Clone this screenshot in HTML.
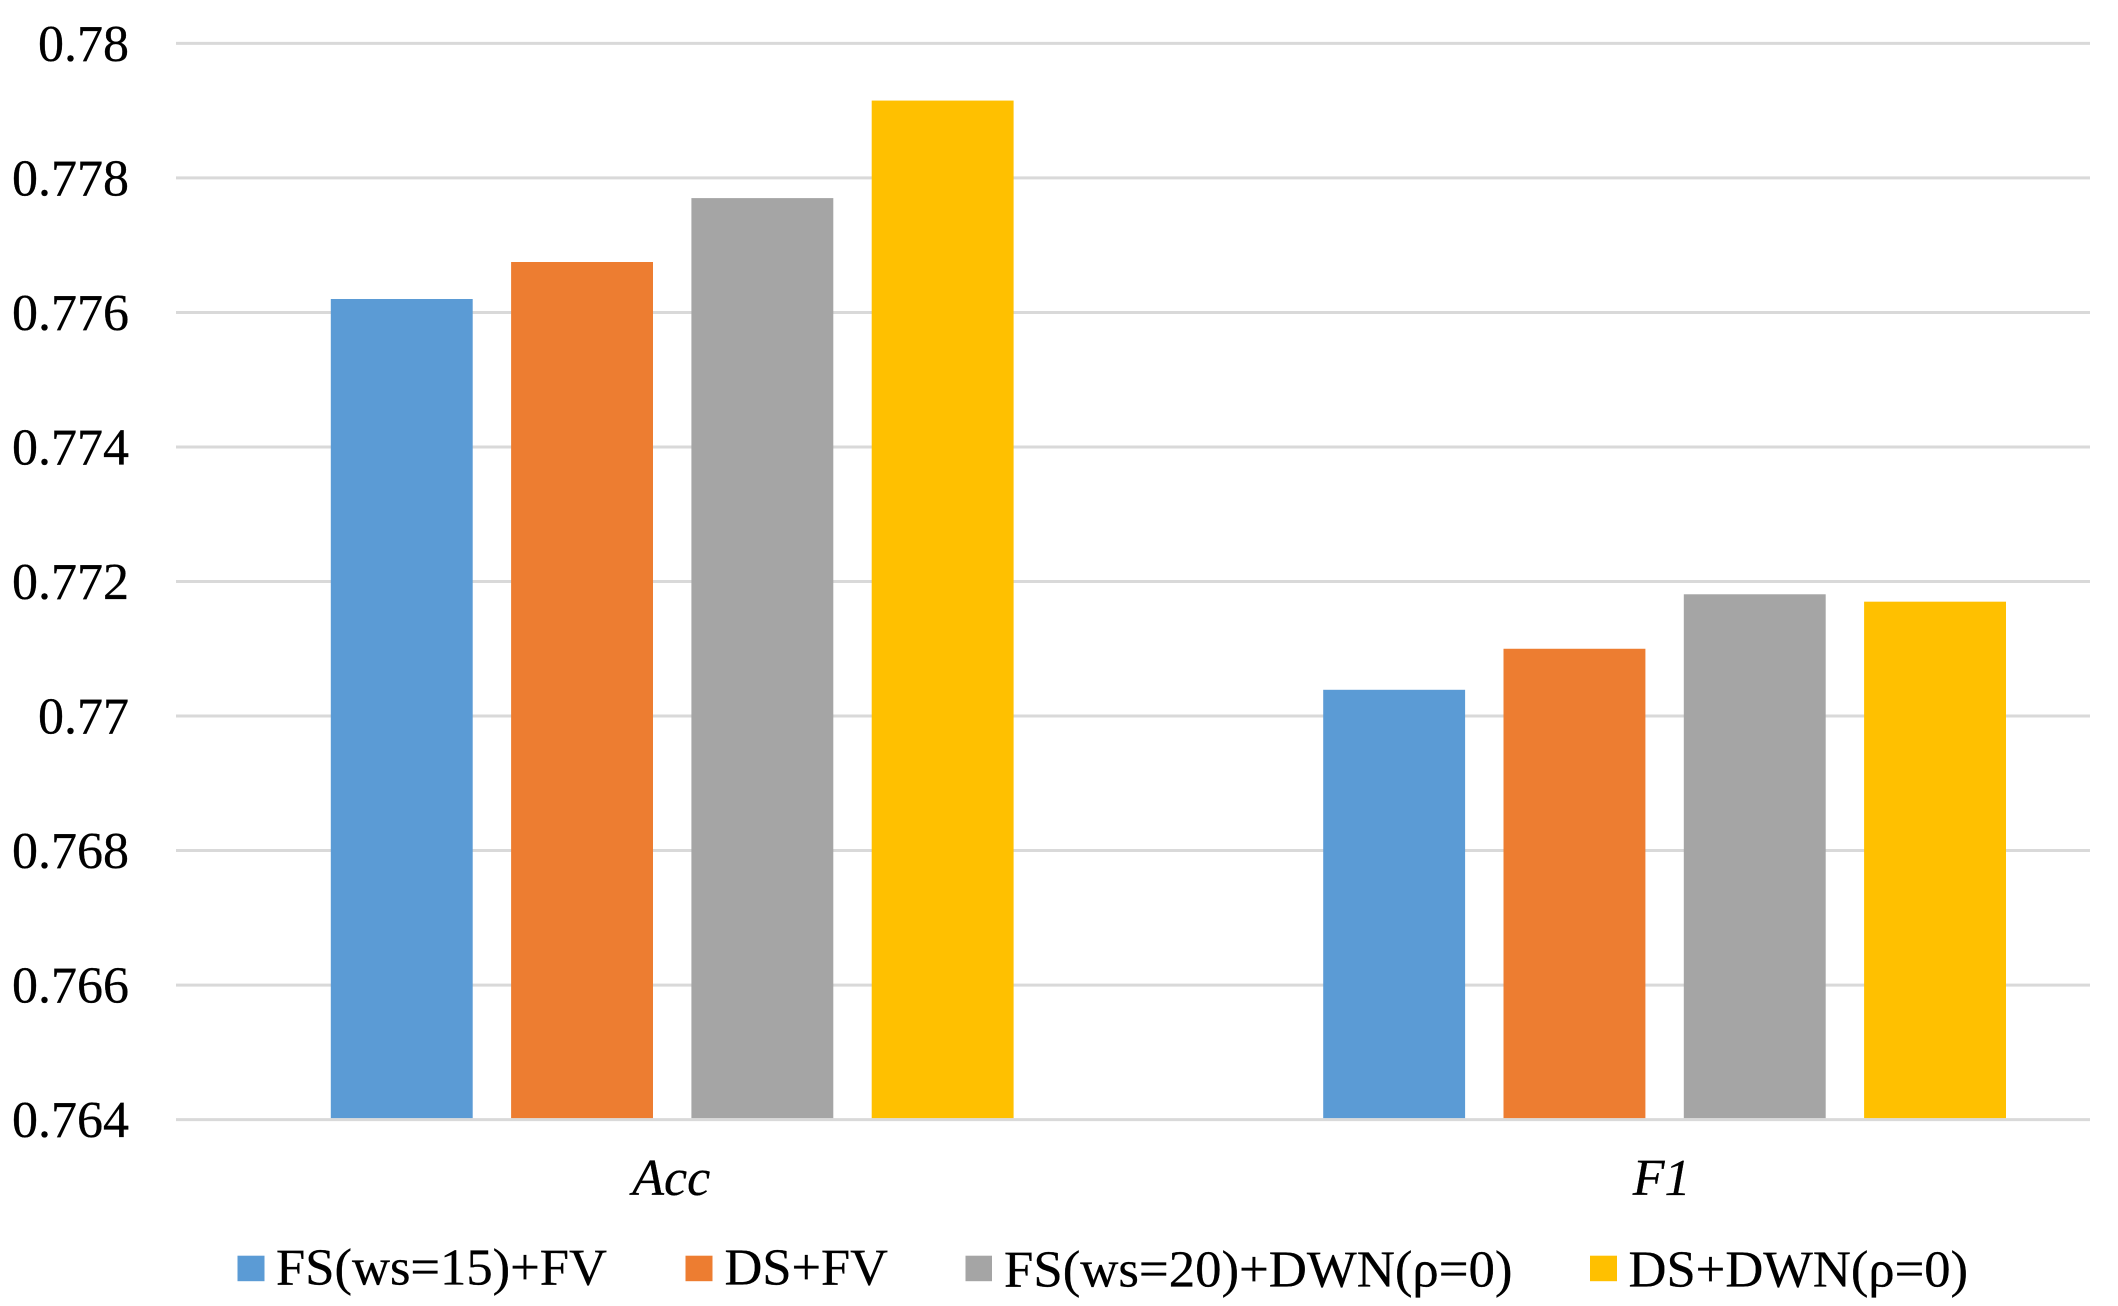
<!DOCTYPE html>
<html lang="en">
<head>
<meta charset="utf-8">
<title>Acc and F1 bar chart</title>
<style>
html,body{margin:0;padding:0;background:#fff;width:2118px;height:1306px;overflow:hidden}
svg{display:block;font-family:"Liberation Serif","Noto Serif CJK SC",serif;fill:#000}
text{stroke:#000;stroke-width:0.3px}
</style>
</head>
<body>
<svg id="chart" xmlns="http://www.w3.org/2000/svg" width="2118" height="1306" viewBox="0 0 2118 1306">
  <rect x="0" y="0" width="2118" height="1306" fill="#ffffff"/>
  <g id="grid"></g>
  <g id="ticks"></g>
  <g id="bars"></g>
  <g id="cats"></g>
  <g font-size="52">
    <g>
      <rect x="237.5" y="1255.7" width="27" height="25.5" fill="#5b9bd5"/>
      <text x="276" y="1284.3" textLength="331" lengthAdjust="spacingAndGlyphs">FS(ws=15)+FV</text>
    </g>
    <g>
      <rect x="685.5" y="1255.7" width="27" height="25.5" fill="#ed7d31"/>
      <text x="724.5" y="1284.3" textLength="163.5" lengthAdjust="spacingAndGlyphs">DS+FV</text>
    </g>
    <g>
      <rect x="965.5" y="1255.7" width="26.5" height="25.5" fill="#a5a5a5"/>
      <text x="1004" y="1286.7" textLength="508.5" lengthAdjust="spacingAndGlyphs">FS(ws=20)+DWN(ρ=0)</text>
    </g>
    <g>
      <rect x="1590" y="1255.7" width="27" height="25.5" fill="#ffc000"/>
      <text x="1628.5" y="1286.7" textLength="339.5" lengthAdjust="spacingAndGlyphs">DS+DWN(ρ=0)</text>
    </g>
  </g>
</svg>
<script>
const categories = ["Acc", "F1"];
const seriesNames = ["fs15-fv", "ds-fv", "fs20-dwn", "ds-dwn"];
const seriesColors = ["#5b9bd5", "#ed7d31", "#a5a5a5", "#ffc000"];
const fs15Fv = [0.7762, 0.77039];
const dsFv = [0.77675, 0.7710];
const fs20Dwn = [0.7777, 0.77181];
const dsDwn = [0.77915, 0.7717];
const tickValues = [0.764, 0.766, 0.768, 0.77, 0.772, 0.774, 0.776, 0.778, 0.78];
const tickLabels = ["0.764", "0.766", "0.768", "0.77", "0.772", "0.774", "0.776", "0.778", "0.78"];

const NS = "http://www.w3.org/2000/svg";
const seriesValues = [fs15Fv, dsFv, fs20Dwn, dsDwn];
const plotLeft = 176, plotRight = 2090, plotBottom = 1119.6, plotTop = 43.4;
const bandWidth = 992.4, barWidth = 141.9, barPitch = 180.3;
const axisMin = tickValues[0], axisMax = tickValues[tickValues.length - 1];

function yScale(v) {
  return plotBottom - (v - axisMin) / (axisMax - axisMin) * (plotBottom - plotTop);
}
function bandCenter(i) {
  return plotLeft + bandWidth * (i + 0.5);
}
function barLeft(catIndex, seriesIndex) {
  const count = seriesValues.length;
  const groupWidth = barPitch * (count - 1) + barWidth;
  return bandCenter(catIndex) - groupWidth / 2 + barPitch * seriesIndex;
}
function make(tag, attrs, parentId) {
  const el = document.createElementNS(NS, tag);
  for (const k in attrs) el.setAttribute(k, attrs[k]);
  document.getElementById(parentId).appendChild(el);
  return el;
}

tickValues.forEach(function (v, i) {
  const line = make("line", {x1: plotLeft, x2: plotRight, y1: yScale(v), y2: yScale(v), stroke: "#d9d9d9", "stroke-width": 3}, "grid");
  
  
  const label = make("text", {x: 129, y: yScale(v) + 17.6, "text-anchor": "end", "font-size": 52}, "ticks");
  
  
  label.textContent = tickLabels[i];
});

categories.forEach(function (cat, c) {
  seriesValues.forEach(function (values, s) {
    const top = yScale(values[c]);
    const bar = make("rect", {x: barLeft(c, s), y: top, width: barWidth, height: plotBottom - 1.5 - top, fill: seriesColors[s]}, "bars");
    
    
  });
  const catLabel = make("text", {x: bandCenter(c) - 1 - 2 * c, y: 1195, "text-anchor": "middle", "font-size": 52, "font-style": "italic"}, "cats");
  
  
  catLabel.textContent = cat;
});
</script>
</body>
</html>
